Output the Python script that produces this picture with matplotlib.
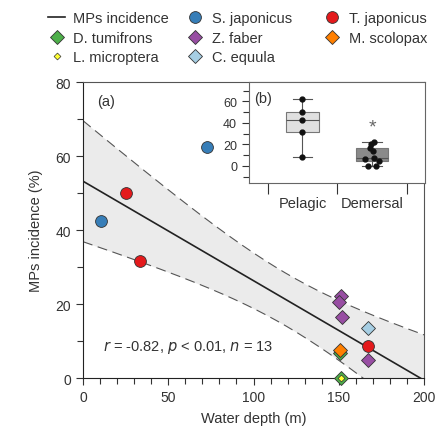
import matplotlib
matplotlib.use("Agg")
import matplotlib.pyplot as plt
import numpy as np
from matplotlib.lines import Line2D
from matplotlib.ticker import MultipleLocator

plt.rcParams['font.family'] = ['Liberation Sans', 'DejaVu Sans']
plt.rcParams['font.size'] = 10

# species data (water depth m, MPs incidence %)
s_jap_depth = [10.5, 72.7]
s_jap_inc = [42.4, 62.5]
t_jap_depth = [25.2, 33.4, 167.2]
t_jap_inc = [50.0, 31.5, 8.6]
z_faber_depth = [151.3, 150.1, 152.1, 167.3]
z_faber_inc = [22.1, 20.6, 16.6, 4.9]
c_equula_depth = [167.3]
c_equula_inc = [13.5]
d_tum_depth = [150.7, 151.3]
d_tum_inc = [6.8, 0.0]
m_scol_depth = [150.7]
m_scol_inc = [7.7]
l_micro_depth = [151.3]
l_micro_inc = [0.0]

# regression line
fit_intercept = 53.2
fit_slope = -0.269

# inset groups
pelagic = s_jap_inc + t_jap_inc
demersal = z_faber_inc + c_equula_inc + d_tum_inc + m_scol_inc + l_micro_inc
demersal_jitter = [0.03, -0.02, -0.03, 0.1, 0.02, -0.1, -0.06, 0.03, 0.05]

# 95% CI of the fitted mean
x_all = np.array(s_jap_depth + t_jap_depth + z_faber_depth + c_equula_depth + d_tum_depth + m_scol_depth)
y_all = np.array(s_jap_inc + t_jap_inc + z_faber_inc + c_equula_inc + d_tum_inc + m_scol_inc)
n = len(x_all)
resid = y_all - (fit_intercept + fit_slope * x_all)
s_err = np.sqrt(np.sum(resid ** 2) / (n - 2))
t_val = 2.201
xx = np.linspace(0, 200, 200)
yy = fit_intercept + fit_slope * xx
half = t_val * s_err * np.sqrt(1.0 / n + (xx - x_all.mean()) ** 2 / np.sum((x_all - x_all.mean()) ** 2))

fig = plt.figure(figsize=(4.39, 4.31), dpi=100)
ax = fig.add_axes([0.189, 0.1206, 0.777, 0.6868])

ax.fill_between(xx, yy - half, yy + half, color='#ebebeb', lw=0, zorder=1)
ax.plot(xx, yy + half, ls=(0, (9, 5)), color='#555555', lw=0.8, zorder=2)
ax.plot(xx, yy - half, ls=(0, (9, 5)), color='#555555', lw=0.8, zorder=2)
ax.plot(xx, yy, color='#222222', lw=1.2, zorder=3)

ms = 8.5
ax.plot(s_jap_depth, s_jap_inc, 'o', ms=ms, mfc='#377eb8', mec='#333333', mew=0.6, zorder=5, clip_on=False)
ax.plot(t_jap_depth, t_jap_inc, 'o', ms=ms, mfc='#e41a1c', mec='#333333', mew=0.6, zorder=5, clip_on=False)
ax.plot(z_faber_depth, z_faber_inc, 'D', ms=7, mfc='#984ea3', mec='#333333', mew=0.6, zorder=5, clip_on=False)
ax.plot(c_equula_depth, c_equula_inc, 'D', ms=7, mfc='#a6cee3', mec='#333333', mew=0.6, zorder=5, clip_on=False)
ax.plot(d_tum_depth, d_tum_inc, 'D', ms=7, mfc='#4daf4a', mec='#333333', mew=0.6, zorder=5, clip_on=False)
ax.plot(m_scol_depth, m_scol_inc, 'D', ms=7, mfc='#ff7f00', mec='#333333', mew=0.6, zorder=6, clip_on=False)
ax.plot(l_micro_depth, l_micro_inc, 'D', ms=3.5, mfc='#ffff33', mec='#333333', mew=0.5, zorder=7, clip_on=False)

ax.set_xlim(0, 200)
ax.set_ylim(0, 80)
ax.xaxis.set_major_locator(MultipleLocator(50))
ax.xaxis.set_minor_locator(MultipleLocator(10))
ax.yaxis.set_major_locator(MultipleLocator(20))
ax.yaxis.set_minor_locator(MultipleLocator(10))
ax.tick_params(which='major', length=5, width=0.8, color='#333333', labelcolor='#333333', labelsize=10)
ax.tick_params(which='minor', length=4, width=0.8, color='#333333')
for sp in ax.spines.values():
    sp.set_color('#555555')
    sp.set_linewidth(0.8)
ax.spines['left'].set_color('#222222')
ax.spines['bottom'].set_color('#222222')
ax.set_xlabel('Water depth (m)', color='#333333', labelpad=5, fontsize=10.5)
ax.set_ylabel('MPs incidence (%)', color='#333333', labelpad=9, fontsize=10.5)

ax.text(8.2, 75, '(a)', color='#333333', fontsize=10.5, va='center')
ax.text(12, 8.6, r'$r$ = -0.82, $p$ < 0.01, $n$ = 13', color='#333333', fontsize=10.5, va='center')

# inset (b)
axb = fig.add_axes([0.567, 0.573, 0.401, 0.2344])
bp = axb.boxplot([pelagic, demersal], positions=[1, 2], widths=0.47, patch_artist=True,
                 showfliers=False, whis=(0, 100),
                 medianprops=dict(color='#555555', lw=0.8),
                 whiskerprops=dict(color='#555555', lw=0.8),
                 capprops=dict(color='#555555', lw=0.8),
                 boxprops=dict(edgecolor='#777777', lw=0.8))
for cap in bp['caps']:
    c = cap.get_xdata().mean()
    cap.set_xdata([c - 0.14, c + 0.14])
bp['boxes'][0].set_facecolor('#e0e0e0')
bp['boxes'][1].set_facecolor('#8a8a8a')
axb.plot([1] * len(pelagic), pelagic, 'o', ms=3.5, color='#111111', zorder=4)
axb.plot(2 + np.array(demersal_jitter), demersal, 'o', ms=3.5, color='#111111', zorder=4)
axb.text(2, 36, '*', ha='center', va='center', fontsize=14, color='#666666')
axb.text(0.3, 63, '(b)', color='#333333', fontsize=10.5, va='center')

axb.set_xlim(0.23, 2.76)
axb.set_ylim(-16, 78)
axb.set_xticks([0.5, 1.5, 2.5])
axb.set_xticklabels([])
axb.set_xticks([1, 2], minor=True)
axb.set_xticklabels(['Pelagic', 'Demersal'], minor=True)
axb.tick_params(axis='x', which='major', length=8, width=0.8, color='#333333')
axb.tick_params(axis='x', which='minor', length=0, pad=9, labelcolor='#333333', labelsize=10.5)
axb.yaxis.set_major_locator(MultipleLocator(20))
axb.yaxis.set_minor_locator(MultipleLocator(10))
axb.set_yticks([0, 20, 40, 60])
axb.tick_params(axis='y', which='major', length=5, width=0.8, color='#333333', labelcolor='#333333', labelsize=9)
axb.tick_params(axis='y', which='minor', length=4, width=0.8, color='#333333')
for sp in axb.spines.values():
    sp.set_color('#666666')
    sp.set_linewidth(0.8)

col1 = [
    Line2D([], [], color='#222222', lw=1.2, label='MPs incidence'),
    Line2D([], [], marker='D', ls='', ms=7, mfc='#4daf4a', mec='#333333', mew=0.6, label='D. tumifrons'),
    Line2D([], [], marker='D', ls='', ms=3.5, mfc='#ffff33', mec='#333333', mew=0.5, label='L. microptera'),
]
col2 = [
    Line2D([], [], marker='o', ls='', ms=8.5, mfc='#377eb8', mec='#333333', mew=0.6, label='S. japonicus'),
    Line2D([], [], marker='D', ls='', ms=7, mfc='#984ea3', mec='#333333', mew=0.6, label='Z. faber'),
    Line2D([], [], marker='D', ls='', ms=7, mfc='#a6cee3', mec='#333333', mew=0.6, label='C. equula'),
]
col3 = [
    Line2D([], [], marker='o', ls='', ms=8.5, mfc='#e41a1c', mec='#333333', mew=0.6, label='T. japonicus'),
    Line2D([], [], marker='D', ls='', ms=7, mfc='#ff7f00', mec='#333333', mew=0.6, label='M. scolopax'),
]
for hs, x0 in [(col1, 0.109), (col2, 0.4237), (col3, 0.7358)]:
    fig.legend(handles=hs, loc='upper left', bbox_to_anchor=(x0, 0.972), frameon=False,
               borderpad=0, borderaxespad=0, handlelength=1.2, handletextpad=0.55,
               labelspacing=0.38, fontsize=10.5, labelcolor='#333333')

fig.savefig('out.png', dpi=100)
